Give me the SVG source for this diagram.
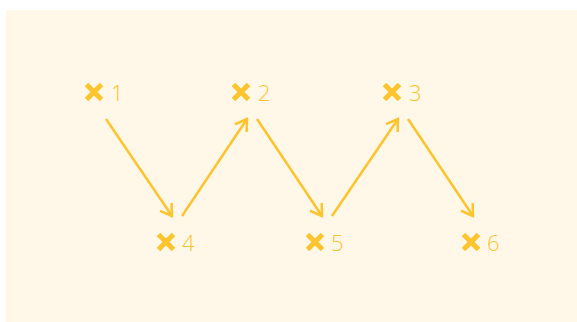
<svg xmlns="http://www.w3.org/2000/svg" width="577" height="322" viewBox="0 0 577 322">
<style>
.x{fill:none;stroke:#FFC42E;stroke-width:5}
.t{font-family:"Open Sans","Liberation Sans",sans-serif;font-size:22px;fill:#FFC42E;font-weight:300}
.c{fill:none;stroke:#FFC42E;stroke-width:2.5;marker-end:url(#a)}
</style>
<defs>
<marker id="a" viewBox="-12 -8 14 16" refX="0" refY="0" markerWidth="14" markerHeight="16" markerUnits="userSpaceOnUse" orient="auto">
<path d="M-11,-7 L0,0 L-11,7" fill="none" stroke="#FFC42E" stroke-width="2.5"/>
</marker>
<path id="cr" d="M-7.5,-7.5 L7.5,7.5 M7.5,-7.5 L-7.5,7.5"/>
</defs>
<rect x="6" y="10" width="571" height="312" fill="#FFF7E8"/>
<g id="connectors">
<line class="c" x1="106" y1="119" x2="172" y2="216"/>
<line class="c" x1="182" y1="216" x2="247" y2="119"/>
<line class="c" x1="257" y1="119" x2="322" y2="216"/>
<line class="c" x1="332" y1="216" x2="398" y2="119"/>
<line class="c" x1="408" y1="119" x2="473" y2="216"/>
</g>
<g id="n1"><use href="#cr" class="x" x="94" y="92"/><text class="t" x="111" y="101">1</text></g>
<g id="n2"><use href="#cr" class="x" x="241" y="92"/><text class="t" x="258" y="101">2</text></g>
<g id="n3"><use href="#cr" class="x" x="392" y="92"/><text class="t" x="409" y="101">3</text></g>
<g id="n4"><use href="#cr" class="x" x="166" y="242"/><text class="t" x="182" y="251">4</text></g>
<g id="n5"><use href="#cr" class="x" x="315" y="242"/><text class="t" x="331" y="251">5</text></g>
<g id="n6"><use href="#cr" class="x" x="471" y="242"/><text class="t" x="487" y="251">6</text></g>
</svg>
